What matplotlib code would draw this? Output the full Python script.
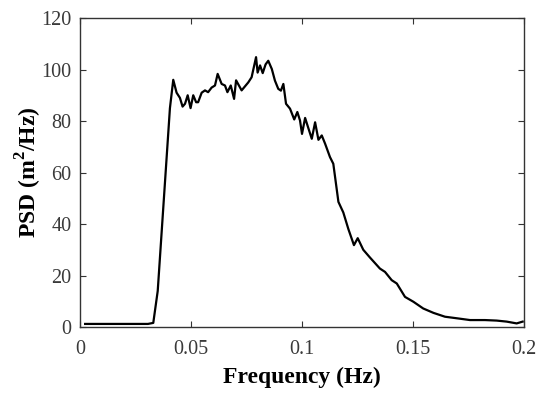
import matplotlib
matplotlib.use("Agg")
import matplotlib.pyplot as plt

plt.rcParams['font.family'] = ['Liberation Serif', 'DejaVu Serif']
plt.rcParams['mathtext.fontset'] = 'custom'
plt.rcParams['mathtext.rm'] = 'Liberation Serif'
plt.rcParams['mathtext.bf'] = 'Liberation Serif:bold'

freq = [0.0023, 0.0306, 0.0330, 0.0350, 0.0405, 0.0420, 0.0435, 0.0450, 0.0462,
        0.0473, 0.0485, 0.0498, 0.0510, 0.0523, 0.0532, 0.0548, 0.0563, 0.0577,
        0.0593, 0.0608, 0.0620, 0.0638, 0.0653, 0.0664, 0.0679, 0.0694, 0.0703,
        0.0728, 0.0758, 0.0773, 0.0793, 0.0800, 0.0811, 0.0823, 0.0836, 0.0848,
        0.0864, 0.0878, 0.0893, 0.0905, 0.0916, 0.0928, 0.0946, 0.0965, 0.0979,
        0.0991, 0.1000, 0.1014, 0.1028, 0.1044, 0.1059, 0.1074, 0.1089, 0.1104,
        0.1126, 0.1141, 0.1164, 0.1186, 0.1209, 0.1234, 0.1251, 0.1276, 0.1306,
        0.1351, 0.1374, 0.1404, 0.1427, 0.1464, 0.1502, 0.1546, 0.1592, 0.1644,
        0.1697, 0.1757, 0.1824, 0.1877, 0.1922, 0.1967, 0.1994]
psd = [1.2, 1.2, 1.6, 14, 85, 96, 91, 89, 85.6,
       86.7, 90, 85, 90, 87.3, 87.3, 91, 91.9, 91.2,
       93, 93.8, 98.3, 94.4, 93.8, 91.2, 93.8, 88.6, 95.8,
       91.9, 95, 97, 104.8, 98.8, 101.6, 98.6, 102, 103.4,
       100.2, 95.7, 92.5, 91.8, 94.4, 86.7, 84.8, 80.6, 83.5,
       80.2, 75, 81.2, 77.4, 73.1, 79.5, 72.7, 74.4, 71.2,
       66, 63.4, 48.6, 44.5, 38, 31.8, 34.5, 30, 27,
       22.7, 21.4, 18.2, 16.9, 11.7, 9.8, 7.2, 5.5, 4.0,
       3.4, 2.7, 2.7, 2.5, 2.1, 1.4, 2.1]

xticks = [0, 0.05, 0.1, 0.15, 0.2]
xticklabels = ['0', '0.05', '0.1', '0.15', '0.2']
yticks = [0, 20, 40, 60, 80, 100, 120]

fig = plt.figure(figsize=(5.5, 3.96), dpi=100)
ax = fig.add_axes([0.1455, 0.1742, 0.8072, 0.7803])
ax.plot(freq, psd, color='black', lw=1.6)
ax.set_xlim(0, 0.2)
ax.set_ylim(0, 120)
ax.set_xticks(xticks)
ax.set_xticklabels(xticklabels)
ax.set_yticks(yticks)
ax.tick_params(direction='in', top=True, right=True, length=4, width=0.8,
               labelsize=14.5, labelcolor='#3a3a3a', color='#333333')
ax.tick_params(axis='x', pad=9)
ax.tick_params(axis='y', pad=6)
for s in ax.spines.values():
    s.set_linewidth(1.0)
    s.set_color('#333333')
ax.set_xlabel('Frequency (Hz)', fontsize=17, fontweight='bold', labelpad=6)
ax.set_ylabel(r'PSD (m$^{\mathbf{2}}$/Hz)', fontsize=17, fontweight='bold', labelpad=-2)
fig.savefig('out.png', dpi=100)
